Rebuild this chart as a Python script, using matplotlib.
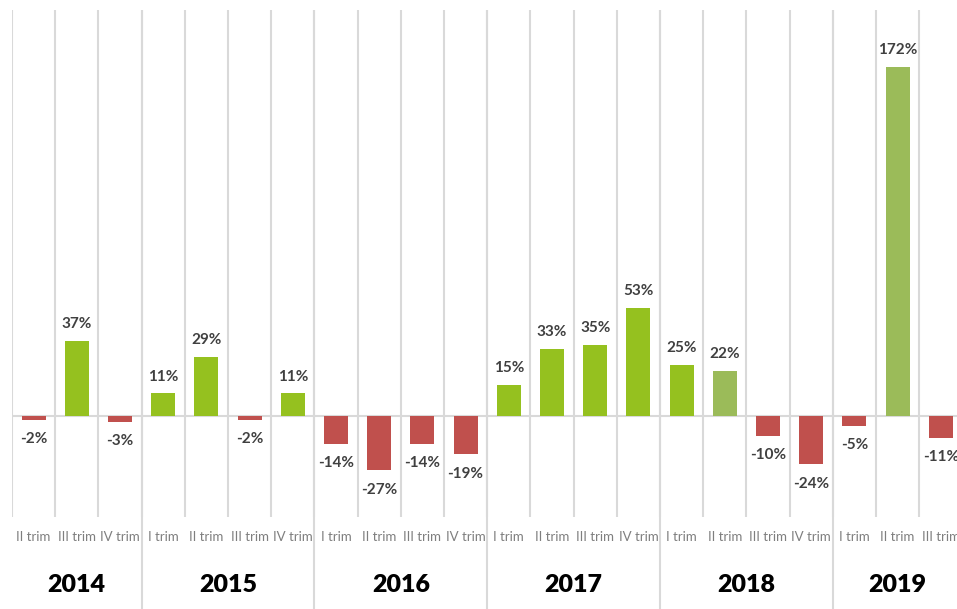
import matplotlib.pyplot as plt

years = ["2014", "2015", "2016", "2017", "2018", "2019"]
quarters = ["II trim", "III trim", "IV trim",
            "I trim", "II trim", "III trim", "IV trim",
            "I trim", "II trim", "III trim", "IV trim",
            "I trim", "II trim", "III trim", "IV trim",
            "I trim", "II trim", "III trim", "IV trim",
            "I trim", "II trim", "III trim"]
quartersPerYear = [3, 4, 4, 4, 4, 3]
values = [-2, 37, -3,
          11, 29, -2, 11,
          -14, -27, -14, -19,
          15, 33, 35, 53,
          25, 22, -10, -24,
          -5, 172, -11]
lightGreen = [False] * 22
lightGreen[16] = True
lightGreen[20] = True

green = "#95C11F"
olive = "#9BBB59"
red = "#C0504D"
grid = "#D9D9D9"

plt.rcParams['font.family'] = ['Lato', 'DejaVu Sans']

fig = plt.figure(figsize=(9.57, 6.09), dpi=100)
ax = fig.add_axes([12 / 957, 92 / 609, 22 * 43.2 / 957, 507 / 609])
ax.set_xlim(0, 22)
ax.set_ylim(-50, 200)
for s in ax.spines.values():
    s.set_visible(False)
ax.set_xticks([])
ax.set_yticks([])

xs = [i + 0.5 for i in range(len(values))]
colors = []
for v, lg in zip(values, lightGreen):
    if v < 0:
        colors.append(red)
    elif lg:
        colors.append(olive)
    else:
        colors.append(green)

# category separators
for i in range(23):
    ax.plot([i, i], [-50, 200], color=grid, lw=1.5, zorder=0, solid_capstyle='butt')
# zero line
ax.axhline(0, color=grid, lw=1.5, zorder=1)

ax.bar(xs, values, width=0.56, color=colors, zorder=2)

for x, v in zip(xs, values):
    off = 7 if v >= 0 else -9
    ax.annotate(f"{v}%", (x, v), xytext=(0, off), textcoords='offset points',
                ha='center', va='bottom' if v >= 0 else 'top',
                fontsize=11, fontweight='bold', color='#404040')

for x, q in zip(xs, quarters):
    ax.text(x, -60, q, ha='center', va='center', fontsize=9.5, color='#7F7F7F',
            clip_on=False)

start = 0
for y, n in zip(years, quartersPerYear):
    if start > 0:
        ax.plot([start, start], [-100, 200], color=grid, lw=1.5, zorder=0,
                clip_on=False, solid_capstyle='butt')
    ax.text(start + n / 2, -83.5, y, ha='center', va='center', fontsize=18,
            fontweight='heavy', color='black', clip_on=False)
    start += n

fig.savefig("out.png", dpi=100)
